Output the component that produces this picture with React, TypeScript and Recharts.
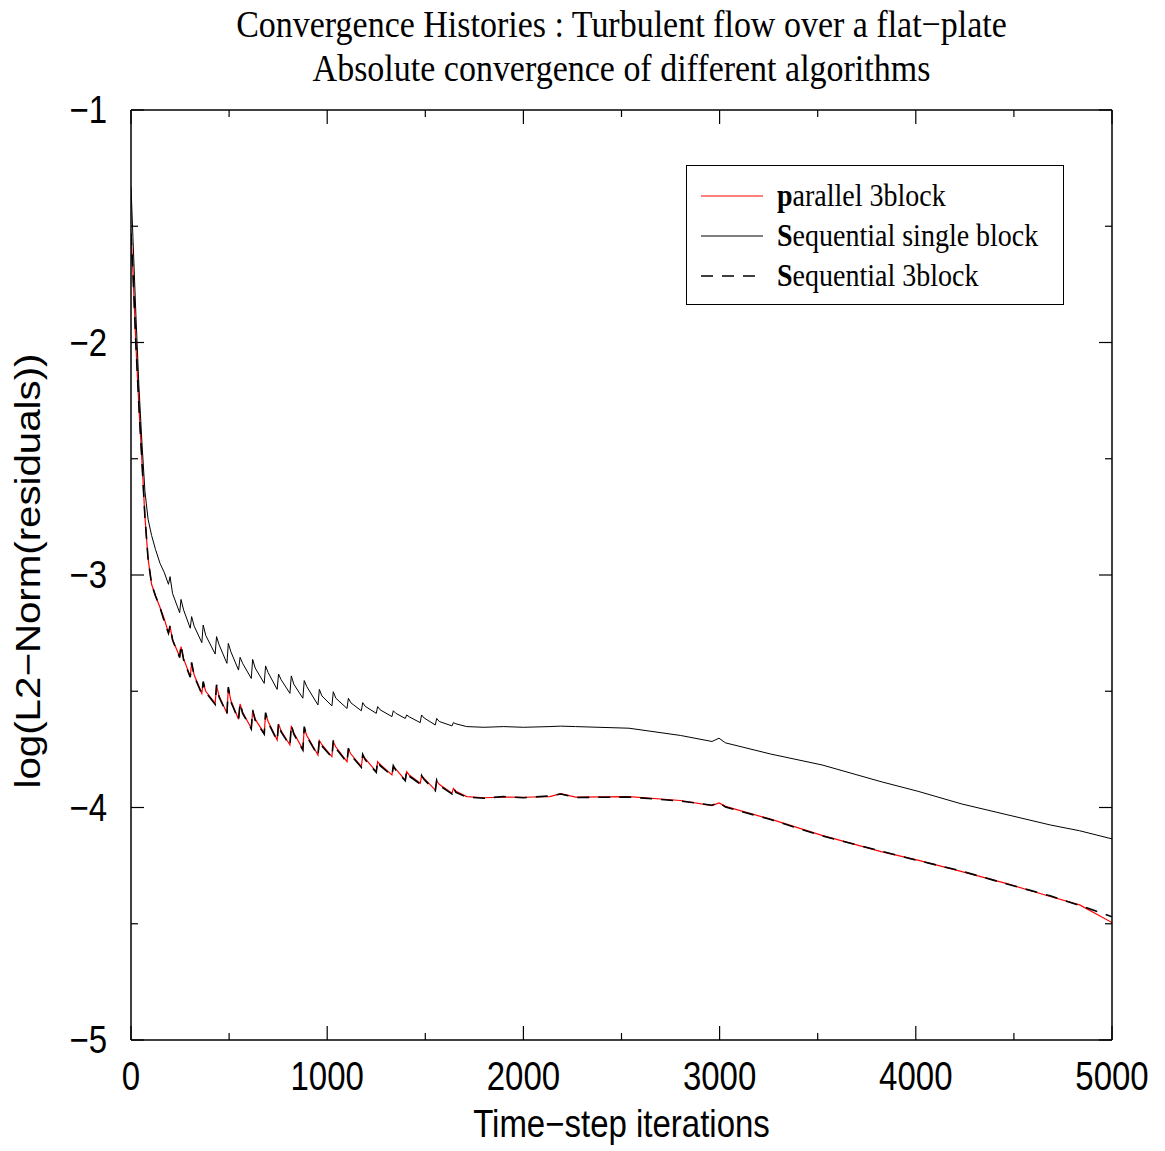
import { LineChart, Line, XAxis, YAxis, Label, Legend } from 'recharts';

const iterations = [
  0, 10, 25, 40, 55, 71, 87, 105, 125, 148, 170, 191,
  199, 212, 248,
  255, 268, 302,
  309, 322, 361,
  368, 381, 429,
  436, 449, 489,
  496, 509, 548,
  556, 569, 613,
  620, 633, 679,
  686, 699, 745,
  752, 765, 810,
  817, 830, 876,
  883, 896, 953,
  960, 973, 1024,
  1031, 1044, 1101,
  1108, 1121, 1174,
  1181, 1194, 1250,
  1257, 1270, 1330,
  1337, 1350, 1398,
  1405, 1418, 1474,
  1481, 1494, 1551,
  1558, 1571, 1636,
  1643, 1656, 1711,
  1800, 1900, 2000, 2135, 2190, 2266, 2538, 2800, 2961, 2997, 3030, 3260, 3522, 3823, 4010, 4235, 4460, 4685, 4835, 5000,
];

const seqSingle = [
  -1.33, -1.55, -1.88, -2.18, -2.42, -2.64, -2.76, -2.83, -2.89, -2.95, -2.99, -3.04,
  -3.007, -3.08, -3.162,
  -3.105, -3.15, -3.229,
  -3.179, -3.22, -3.291,
  -3.215, -3.26, -3.34,
  -3.265, -3.3, -3.38,
  -3.294, -3.33, -3.409,
  -3.354, -3.38, -3.445,
  -3.363, -3.4, -3.466,
  -3.391, -3.42, -3.492,
  -3.426, -3.45, -3.509,
  -3.434, -3.47, -3.53,
  -3.454, -3.48, -3.559,
  -3.492, -3.52, -3.563,
  -3.502, -3.53, -3.574,
  -3.53, -3.55, -3.584,
  -3.549, -3.565, -3.595,
  -3.566, -3.58, -3.609,
  -3.584, -3.595, -3.617,
  -3.602, -3.61, -3.635,
  -3.602, -3.615, -3.645,
  -3.617, -3.63, -3.649,
  -3.635, -3.64, -3.652,
  -3.655, -3.652, -3.655, -3.652, -3.65, -3.652, -3.659, -3.69, -3.716, -3.702, -3.722, -3.77, -3.817, -3.889, -3.93, -3.985, -4.03, -4.075, -4.1, -4.135,
];

const parallel3 = [
  -1.53, -1.7, -2.01, -2.27, -2.5, -2.75, -2.93, -3.04, -3.09, -3.14, -3.19, -3.25,
  -3.222, -3.28, -3.351,
  -3.308, -3.36, -3.437,
  -3.38, -3.43, -3.509,
  -3.463, -3.5, -3.552,
  -3.477, -3.52, -3.595,
  -3.487, -3.54, -3.62,
  -3.555, -3.59, -3.659,
  -3.585, -3.62, -3.681,
  -3.598, -3.63, -3.71,
  -3.641, -3.67, -3.731,
  -3.649, -3.68, -3.75,
  -3.659, -3.69, -3.774,
  -3.712, -3.73, -3.781,
  -3.717, -3.74, -3.803,
  -3.75, -3.77, -3.824,
  -3.778, -3.79, -3.846,
  -3.803, -3.815, -3.86,
  -3.824, -3.835, -3.882,
  -3.846, -3.86, -3.896,
  -3.865, -3.875, -3.925,
  -3.886, -3.9, -3.939,
  -3.918, -3.93, -3.953,
  -3.958, -3.955, -3.956, -3.953, -3.94, -3.955, -3.953, -3.97, -3.992, -3.98, -3.995, -4.05, -4.12, -4.19, -4.226, -4.276, -4.326, -4.383, -4.419, -4.495,
];

const seq3 = [
  -1.53, -1.7, -2.01, -2.27, -2.5, -2.75, -2.93, -3.04, -3.09, -3.14, -3.2, -3.25,
  -3.218, -3.28, -3.355,
  -3.3, -3.365, -3.44,
  -3.376, -3.435, -3.512,
  -3.458, -3.505, -3.556,
  -3.472, -3.525, -3.598,
  -3.482, -3.545, -3.624,
  -3.55, -3.595, -3.662,
  -3.58, -3.625, -3.684,
  -3.592, -3.635, -3.713,
  -3.636, -3.675, -3.734,
  -3.644, -3.685, -3.753,
  -3.652, -3.695, -3.777,
  -3.706, -3.735, -3.784,
  -3.712, -3.745, -3.806,
  -3.745, -3.775, -3.827,
  -3.772, -3.795, -3.849,
  -3.798, -3.82, -3.863,
  -3.82, -3.84, -3.885,
  -3.842, -3.865, -3.899,
  -3.862, -3.88, -3.928,
  -3.882, -3.905, -3.942,
  -3.914, -3.935, -3.955,
  -3.96, -3.953, -3.958, -3.95, -3.942, -3.957, -3.955, -3.972, -3.99, -3.978, -3.998, -4.052, -4.122, -4.188, -4.228, -4.274, -4.328, -4.38, -4.421, -4.47,
];

const xTicks = [0, 500, 1000, 1500, 2000, 2500, 3000, 3500, 4000, 4500, 5000];
const yTicks = [-5, -4.5, -4, -3.5, -3, -2.5, -2, -1.5, -1];

const legendNames = ['parallel 3block', 'Sequential single block', 'Sequential 3block'];

const data = iterations.map((it, i) => ({
  it,
  parallel3: parallel3[i],
  seqSingle: seqSingle[i],
  seq3: seq3[i],
}));

const SANS = '"Liberation Sans", Arial, Helvetica, sans-serif';
const SERIF = '"Liberation Serif", "Times New Roman", serif';

const isMajor = (v: number) => Number.isInteger(v) && (Math.abs(v) < 10 ? true : v % 1000 === 0);
const fmt = (v: number) => (v < 0 ? '\u2212' + Math.abs(v) : String(v));

// text in the reference is stretched vertically, so draw it scaled
function Stretched(props: any) {
  const { x, y, sy = 1.15, angle = 0, anchor = 'middle', family = SANS, size, children } = props;
  return (
    <text
      x={0}
      y={0}
      transform={`translate(${x},${y}) rotate(${angle}) scale(${angle ? sy : 1},${angle ? 1 : sy})`}
      textAnchor={anchor}
      fontFamily={family}
      fontSize={size}
      fill="#000"
    >
      {children}
    </text>
  );
}

function BottomTick(props: any) {
  const { x, y, payload } = props;
  const major = isMajor(payload.value);
  return (
    <g>
      <line x1={x} x2={x} y1={y} y2={y - (major ? 14 : 7)} stroke="#000" strokeWidth={1.2} />
      {major && (
        <Stretched x={x} y={y + 50} size={33} sy={1.22}>
          {fmt(payload.value)}
        </Stretched>
      )}
    </g>
  );
}

function TopTick(props: any) {
  const { x, y, payload } = props;
  const major = isMajor(payload.value);
  return <line x1={x} x2={x} y1={y} y2={y + (major ? 14 : 7)} stroke="#000" strokeWidth={1.2} />;
}

function LeftTick(props: any) {
  const { x, y, payload } = props;
  const major = isMajor(payload.value);
  return (
    <g>
      <line x1={x} x2={x + (major ? 13 : 7)} y1={y} y2={y} stroke="#000" strokeWidth={1.2} />
      {major && (
        <Stretched x={x - 24} y={y + 13} size={33} sy={1.15} anchor="end">
          {fmt(payload.value)}
        </Stretched>
      )}
    </g>
  );
}

function RightTick(props: any) {
  const { x, y, payload } = props;
  const major = isMajor(payload.value);
  return <line x1={x} x2={x - (major ? 13 : 7)} y1={y} y2={y} stroke="#000" strokeWidth={1.2} />;
}

const sampleStyles = [
  { stroke: '#ff0000', dash: undefined, width: 1.2 },
  { stroke: '#000', dash: undefined, width: 1 },
  { stroke: '#000', dash: '12 9', width: 1.6 },
];

function LegendBox() {
  return (
    <div
      style={{
        border: '1.5px solid #000',
        background: '#fff',
        width: 378,
        height: 140,
        boxSizing: 'border-box',
        paddingTop: 10,
      }}
    >
      {legendNames.map((name, i) => (
        <div key={name} style={{ display: 'flex', alignItems: 'center', height: 40 }}>
          <svg width={90} height={10} style={{ flex: 'none' }}>
            <line
              x1={14}
              x2={76}
              y1={5}
              y2={5}
              stroke={sampleStyles[i].stroke}
              strokeWidth={sampleStyles[i].width}
              strokeDasharray={sampleStyles[i].dash}
            />
          </svg>
          <span
            style={{
              fontFamily: SERIF,
              fontSize: 28,
              color: '#000',
              whiteSpace: 'nowrap',
              display: 'inline-block',
              transform: 'scaleY(1.12)',
            }}
          >
            <b>{name[0]}</b>
            {name.slice(1)}
          </span>
        </div>
      ))}
    </div>
  );
}

export default function App() {
  return (
    <div style={{ position: 'absolute', left: 0, top: 0, width: 1165, height: 1151, background: '#fff' }}>
      <LineChart width={1165} height={1151} data={data} margin={{ top: 109, right: 52, bottom: 0, left: 0 }}>
        <XAxis
          xAxisId="b"
          dataKey="it"
          type="number"
          domain={[0, 5000]}
          ticks={xTicks}
          interval={0}
          tickSize={0}
          tickMargin={0}
          tickLine={false}
          tick={(p: any) => <BottomTick {...p} />}
          axisLine={{ stroke: '#000', strokeWidth: 1.5 }}
          height={111}
          allowDataOverflow
        >
          <Label
            content={() => (
              <Stretched x={621.5} y={1137} size={33} sy={1.15}>
                Time{'\u2212'}step iterations
              </Stretched>
            )}
          />
        </XAxis>
        <XAxis
          xAxisId="t"
          orientation="top"
          dataKey="it"
          type="number"
          domain={[0, 5000]}
          ticks={xTicks}
          interval={0}
          tickSize={0}
          tickMargin={0}
          tickLine={false}
          tick={(p: any) => <TopTick {...p} />}
          axisLine={{ stroke: '#000', strokeWidth: 1.5 }}
          height={1}
          allowDataOverflow
        >
          <Label
            content={() => (
              <g>
                <Stretched x={621.5} y={37} size={34} sy={1.12} family={SERIF}>
                  Convergence Histories : Turbulent flow over a flat{'\u2212'}plate
                </Stretched>
                <Stretched x={621.5} y={81} size={34} sy={1.12} family={SERIF}>
                  Absolute convergence of different algorithms
                </Stretched>
              </g>
            )}
          />
        </XAxis>
        <YAxis
          yAxisId="l"
          type="number"
          domain={[-5, -1]}
          ticks={yTicks}
          interval={0}
          tickSize={0}
          tickMargin={0}
          tickLine={false}
          tick={(p: any) => <LeftTick {...p} />}
          axisLine={{ stroke: '#000', strokeWidth: 1.5 }}
          width={131}
          allowDataOverflow
        >
          <Label
            content={() => (
              <Stretched x={40} y={571} angle={-90} size={35} sy={1.15}>
                log(L2{'\u2212'}Norm(residuals))
              </Stretched>
            )}
          />
        </YAxis>
        <YAxis
          yAxisId="r"
          orientation="right"
          type="number"
          domain={[-5, -1]}
          ticks={yTicks}
          interval={0}
          tickSize={0}
          tickMargin={0}
          tickLine={false}
          tick={(p: any) => <RightTick {...p} />}
          axisLine={{ stroke: '#000', strokeWidth: 1.5 }}
          width={1}
          allowDataOverflow
        />
        <Legend
          layout="vertical"
          align="center"
          verticalAlign="middle"
          content={() => <LegendBox />}
          wrapperStyle={{ position: 'absolute', left: 686, top: 165, width: 378, height: 140 }}
        />
        <Line
          xAxisId="b"
          yAxisId="l"
          type="linear"
          dataKey="parallel3"
          stroke="#ff0000"
          strokeWidth={1.2}
          dot={false}
          isAnimationActive={false}
        />
        <Line
          xAxisId="b"
          yAxisId="l"
          type="linear"
          dataKey="seqSingle"
          stroke="#000"
          strokeWidth={1}
          dot={false}
          isAnimationActive={false}
        />
        <Line
          xAxisId="b"
          yAxisId="l"
          type="linear"
          dataKey="seq3"
          stroke="#000"
          strokeWidth={1.6}
          strokeDasharray="12 9"
          dot={false}
          isAnimationActive={false}
        />
      </LineChart>
    </div>
  );
}
